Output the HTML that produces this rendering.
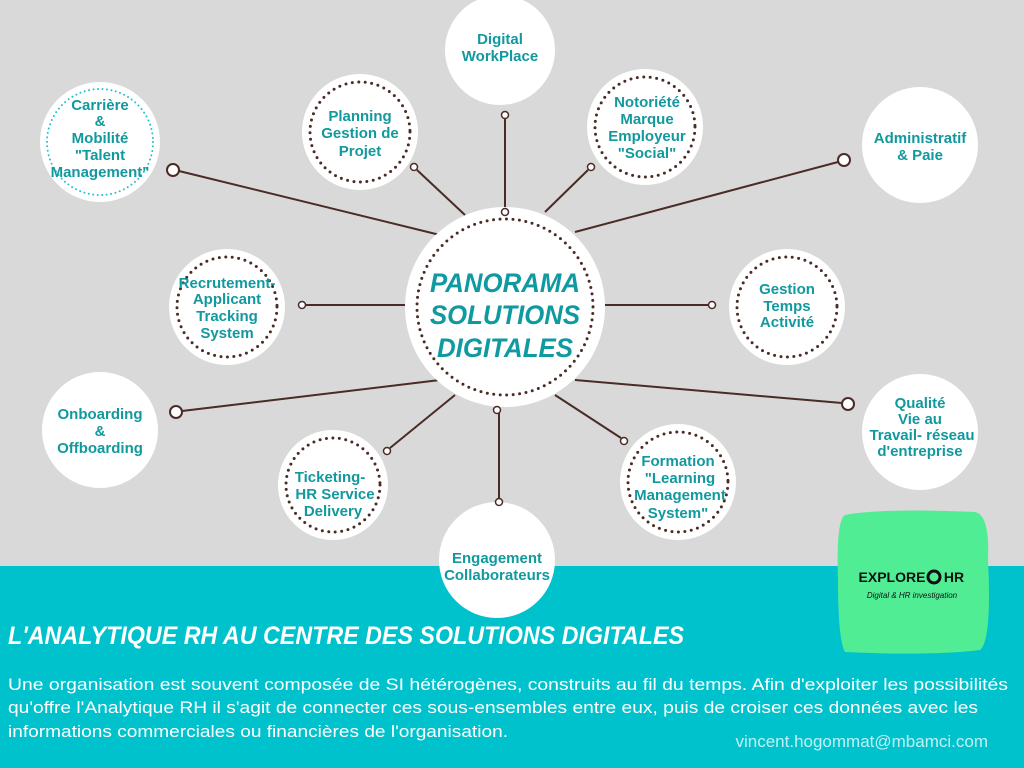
<!DOCTYPE html>
<html><head><meta charset="utf-8"><style>
html,body{margin:0;padding:0;width:1024px;height:768px;overflow:hidden;background:#d9d9d9}
svg{display:block}
.n{font-family:"Liberation Sans",sans-serif;font-size:15px;font-weight:bold;fill:#11999e;text-anchor:middle}
.t{font-family:"Liberation Sans",sans-serif;font-size:27px;font-weight:bold;font-style:italic;fill:#0e9aa0;text-anchor:middle}
.b{font-family:"Liberation Sans",sans-serif;font-size:17px;fill:#fff}
</style></head><body>
<svg width="1024" height="768" viewBox="0 0 1024 768">
<rect width="1024" height="768" fill="#d9d9d9"/>
<rect y="566" width="1024" height="202" fill="#00c2cc"/>
<g stroke="#4a2b25" stroke-width="2" fill="none">
<line x1="179" y1="171" x2="440" y2="235"/>
<line x1="417" y1="170" x2="465" y2="215"/>
<line x1="505" y1="119" x2="505" y2="207"/>
<line x1="588" y1="170" x2="545" y2="212"/>
<line x1="838" y1="162" x2="575" y2="232"/>
<line x1="306" y1="305" x2="405" y2="305"/>
<line x1="605" y1="305" x2="708" y2="305"/>
<line x1="182" y1="411" x2="440" y2="380"/>
<line x1="842" y1="403" x2="575" y2="380"/>
<line x1="390" y1="448" x2="455" y2="395"/>
<line x1="621" y1="438" x2="555" y2="395"/>
<line x1="499" y1="498" x2="499" y2="407"/>
</g>
<g fill="#fff">
<circle cx="505" cy="307" r="100"/>
<circle cx="500" cy="50" r="55"/>
<circle cx="360" cy="132" r="58"/>
<circle cx="645" cy="127" r="58"/>
<circle cx="100" cy="142" r="60"/>
<circle cx="920" cy="145" r="58"/>
<circle cx="227" cy="307" r="58"/>
<circle cx="787" cy="307" r="58"/>
<circle cx="100" cy="430" r="58"/>
<circle cx="920" cy="432" r="58"/>
<circle cx="333" cy="485" r="55"/>
<circle cx="678" cy="482" r="58"/>
<circle cx="497" cy="560" r="58"/>
</g>
<g fill="none" stroke="#4a2b25" stroke-width="3" stroke-linecap="round" stroke-dasharray="0 6.5">
<circle cx="505" cy="307" r="88"/>
<circle cx="360" cy="132" r="50"/>
<circle cx="645" cy="127" r="50"/>
<circle cx="227" cy="307" r="50"/>
<circle cx="787" cy="307" r="50"/>
<circle cx="333" cy="485" r="47"/>
<circle cx="678" cy="482" r="50"/>
</g>
<circle cx="100" cy="142" r="53" fill="none" stroke="#1bc2cc" stroke-width="2" stroke-linecap="round" stroke-dasharray="0 4.5"/>
<g fill="#fff" stroke="#4a2b25" stroke-width="1.5">
<circle cx="414" cy="167" r="3.5"/><circle cx="505" cy="115" r="3.5"/><circle cx="591" cy="167" r="3.5"/>
<circle cx="302" cy="305" r="3.5"/><circle cx="712" cy="305" r="3.5"/><circle cx="387" cy="451" r="3.5"/>
<circle cx="624" cy="441" r="3.5"/><circle cx="499" cy="502" r="3.5"/>
<circle cx="505" cy="212" r="3.5"/><circle cx="497" cy="410" r="3.5"/>
</g>
<g fill="#fff" stroke="#4a2b25" stroke-width="2">
<circle cx="173" cy="170" r="6"/><circle cx="844" cy="160" r="6"/><circle cx="176" cy="412" r="6"/><circle cx="848" cy="404" r="6"/>
</g>
<text class="t" x="505" y="292" textLength="150" lengthAdjust="spacingAndGlyphs">PANORAMA</text>
<text class="t" x="505" y="324" textLength="150" lengthAdjust="spacingAndGlyphs">SOLUTIONS</text>
<text class="t" x="505" y="357" textLength="136" lengthAdjust="spacingAndGlyphs">DIGITALES</text>
<g class="n">
<text x="500" y="44">Digital</text><text x="500" y="61">WorkPlace</text>
<text x="360" y="121">Planning</text><text x="360" y="138">Gestion de</text><text x="360" y="156">Projet</text>
<text x="647" y="107">Notoriété</text><text x="647" y="124">Marque</text><text x="647" y="141">Employeur</text><text x="647" y="158">"Social"</text>
<text x="100" y="110">Carrière</text><text x="100" y="126">&amp;</text><text x="100" y="143">Mobilité</text><text x="100" y="160">"Talent</text><text x="100" y="177">Management"</text>
<text x="920" y="143">Administratif</text><text x="920" y="160">&amp; Paie</text>
<text x="227" y="288">Recrutement-</text><text x="227" y="304">Applicant</text><text x="227" y="321">Tracking</text><text x="227" y="338">System</text>
<text x="787" y="294">Gestion</text><text x="787" y="311">Temps</text><text x="787" y="327">Activité</text>
<text x="100" y="419">Onboarding</text><text x="100" y="436">&amp;</text><text x="100" y="453">Offboarding</text>
<text x="920" y="408">Qualité</text><text x="920" y="424">Vie  au</text><text x="922" y="440">Travail- réseau</text><text x="920" y="456">d'entreprise</text>
<text x="330" y="482">Ticketing-</text><text x="335" y="499">HR Service</text><text x="333" y="516">Delivery</text>
<text x="678" y="466">Formation</text><text x="680" y="483">"Learning</text><text x="680" y="500">Management</text><text x="678" y="518">System"</text>
<text x="497" y="563">Engagement</text><text x="497" y="580">Collaborateurs</text>
</g>
<path d="M845,515 Q880,508 975,512 Q990,515 988,560 Q992,640 980,650 Q930,656 845,652 Q838,640 838,580 Q836,520 845,515Z" fill="#51ed95"/>
<text x="892" y="582" font-family="Liberation Sans,sans-serif" font-size="14" font-weight="bold" fill="#111" text-anchor="middle">EXPLORE</text>
<circle cx="934" cy="577" r="6" fill="none" stroke="#111" stroke-width="3"/>
<text x="954" y="582" font-family="Liberation Sans,sans-serif" font-size="14" font-weight="bold" fill="#111" text-anchor="middle">HR</text>
<text x="912" y="598" font-family="Liberation Sans,sans-serif" font-size="8" font-style="italic" fill="#111" text-anchor="middle">Digital &amp; HR investigation</text>
<text x="8" y="644" font-family="Liberation Sans,sans-serif" font-size="25" font-weight="bold" font-style="italic" fill="#fff" textLength="676" lengthAdjust="spacingAndGlyphs">L'ANALYTIQUE RH AU CENTRE DES SOLUTIONS DIGITALES</text>
<text class="b" x="8" y="690" textLength="1000" lengthAdjust="spacingAndGlyphs">Une organisation est souvent composée de SI hétérogènes, construits au fil du temps. Afin d'exploiter les possibilités</text>
<text class="b" x="8" y="713" textLength="970" lengthAdjust="spacingAndGlyphs">qu'offre l'Analytique RH il s'agit de connecter ces sous-ensembles entre eux, puis de croiser ces données avec les</text>
<text class="b" x="8" y="737" textLength="500" lengthAdjust="spacingAndGlyphs">informations commerciales ou financières de l'organisation.</text>
<text x="988" y="747" font-family="Liberation Sans,sans-serif" font-size="17" fill="#bff1f4" text-anchor="end">vincent.hogommat@mbamci.com</text>
</svg>
</body></html>
